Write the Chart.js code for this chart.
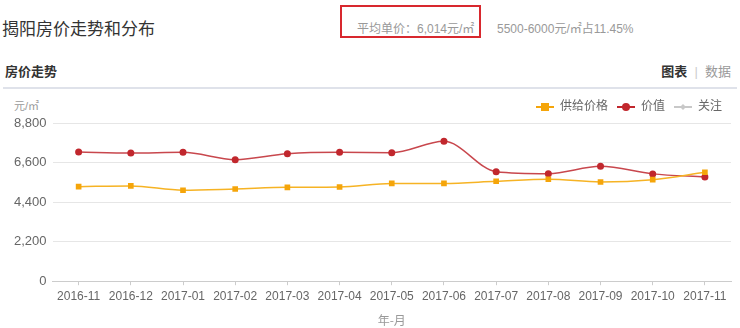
<!DOCTYPE html>
<html>
<head>
<meta charset="utf-8">
<script src="https://cdn.jsdelivr.net/npm/chart.js@4"></script>
<style>
  body { margin: 0; width: 740px; height: 328px; background: #fff; position: relative; overflow: hidden;
         font-family: "Liberation Sans", Arial, "Noto Sans CJK SC", sans-serif; }
  .abs { position: absolute; white-space: nowrap; }
  #title { left: 2px; top: 15px; font-size: 17px; color: #333; }
  #avgbox { left: 340px; top: 5px; width: 137px; height: 29px; border: 2px solid #d8282e; }
  #avg { left: 357px; top: 19px; font-size: 12px; color: #999; }
  #range { left: 497px; top: 19px; font-size: 12px; color: #999; }
  #sub { left: 5px; top: 61px; font-size: 13px; font-weight: bold; color: #333; }
  #tabs { right: 9px; top: 61px; font-size: 13px; color: #999; }
  #tabs b { color: #333; }
  #rule { left: 3px; top: 87px; width: 734px; height: 2px; background: #dfe2ea; }
  #unit { left: 14px; top: 97px; font-size: 11px; color: #999; }
  #wrap { left: 0; top: 90px; width: 740px; height: 238px; }
</style>
</head>
<body>
<div class="abs" id="title">揭阳房价走势和分布</div>
<div class="abs" id="avgbox"></div>
<div class="abs" id="avg">平均单价：6,014元/㎡</div>
<div class="abs" id="range">5500-6000元/㎡占11.45%</div>
<div class="abs" id="sub">房价走势</div>
<div class="abs" id="tabs"><b>图表</b>&nbsp;&nbsp;<span style="color:#ccc">|</span>&nbsp;&nbsp;数据</div>
<div class="abs" id="rule"></div>
<div class="abs" id="unit">元/㎡</div>
<div class="abs" id="wrap"><canvas id="myChart" width="740" height="238"></canvas></div>
<script>
// 月份
const months = ['2016-11', '2016-12', '2017-01', '2017-02', '2017-03', '2017-04', '2017-05',
  '2017-06', '2017-07', '2017-08', '2017-09', '2017-10', '2017-11'];
// 供给价格
const supplyPrice = [5260, 5300, 5060, 5130, 5220, 5240, 5440, 5440, 5560, 5670, 5520, 5650, 6060];
// 价值
const valuePrice = [7190, 7130, 7170, 6760, 7090, 7170, 7150, 7780, 6090, 5980, 6390, 5970, 5800];
// 关注 (sin datos)
const attention = [];
const yTicks = [0, 2200, 4400, 6600, 8800];

function legendIcon(color, style) {
  const c = document.createElement('canvas');
  c.width = 18; c.height = 10;
  const g = c.getContext('2d');
  g.strokeStyle = color; g.fillStyle = color; g.lineWidth = 2;
  g.beginPath(); g.moveTo(0, 5); g.lineTo(18, 5); g.stroke();
  if (style === 'rect') g.fillRect(5, 1, 8, 8);
  else if (style === 'circle') { g.beginPath(); g.arc(9, 5, 4, 0, Math.PI * 2); g.fill(); }
  else { g.beginPath(); g.moveTo(9, 2); g.lineTo(12, 5); g.lineTo(9, 8); g.lineTo(6, 5); g.fill(); }
  return c;
}

const datasets = [
  { label: '供给价格', data: supplyPrice, borderColor: '#f6b324', backgroundColor: '#f5a50a',
    pointStyle: 'rect', pointRadius: 4, borderWidth: 1.5, icon: legendIcon('#f5a50a', 'rect') },
  { label: '价值', data: valuePrice, borderColor: '#c8474d', backgroundColor: '#c1272d',
    pointStyle: 'circle', pointRadius: 3.5, borderWidth: 1.5, icon: legendIcon('#c1272d', 'circle') },
  { label: '关注', data: attention, borderColor: '#ccc', backgroundColor: '#ccc',
    pointStyle: 'rectRot', pointRadius: 3, borderWidth: 1.5, icon: legendIcon('#c8c8c8', 'diamond') }
];

new Chart(document.getElementById('myChart').getContext('2d'), {
  type: 'line',
  data: {
    labels: months,
    datasets: datasets.map(d => Object.assign({ pointBorderWidth: 0, cubicInterpolationMode: 'monotone', tension: 0.4 }, d))
  },
  options: {
    responsive: false,
    animation: false,
    layout: { padding: { left: 8, right: 9, top: 2, bottom: 0 } },
    plugins: {
      tooltip: { enabled: false },
      legend: {
        position: 'top', align: 'end',
        labels: {
          usePointStyle: true, pointStyleWidth: 18, padding: 9, color: '#666',
          font: { size: 12, family: '"Liberation Sans", Arial, "Noto Sans CJK SC"' },
          generateLabels: chart => chart.data.datasets.map((d, i) => ({
            text: d.label, pointStyle: d.icon, fontColor: '#666', datasetIndex: i,
            lineWidth: 0, strokeStyle: 'transparent', fillStyle: d.backgroundColor
          }))
        }
      }
    },
    scales: {
      x: {
        offset: true,
        grid: { offset: false, drawOnChartArea: false, drawTicks: true, tickLength: 4, color: '#ccc' },
        border: { color: '#ccc' },
        ticks: { color: '#666', padding: 4, maxRotation: 0, autoSkip: false,
          font: { size: 12, family: '"Liberation Sans", Arial' } },
        title: { display: true, text: '年-月', color: '#999', padding: { top: 6, bottom: 0 },
          font: { size: 12, family: '"Noto Sans CJK SC"' } }
      },
      y: {
        min: 0, max: 8800,
        afterBuildTicks: axis => { axis.ticks = yTicks.map(v => ({ value: v })); },
        grid: { color: '#e6e6e6', drawTicks: false },
        border: { display: false },
        ticks: { color: '#666', padding: 6, font: { size: 13, family: '"Liberation Sans", Arial' } }
      }
    }
  }
});
</script>
</body>
</html>
